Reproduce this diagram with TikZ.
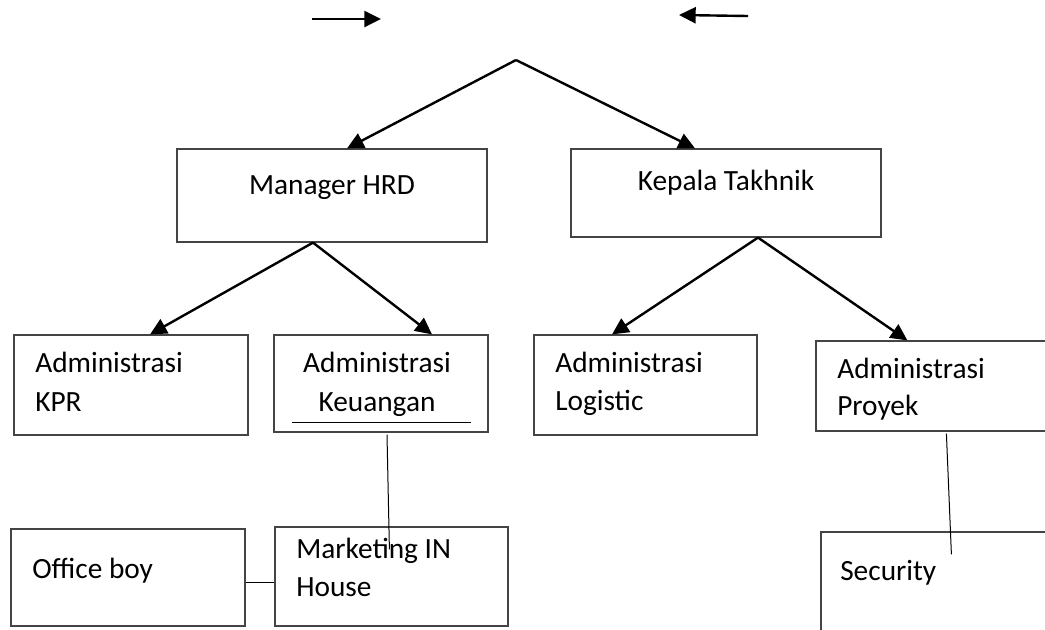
\documentclass[tikz,border=0pt]{standalone}
\usepackage{fontspec}
\setmainfont{Carlito}
\usetikzlibrary{arrows.meta,calc}
\definecolor{boxline}{HTML}{444444}
\begin{document}
\begin{tikzpicture}[x=0.75pt,y=-0.75pt,
  box/.style={draw=boxline, line width=0.9pt, rectangle, inner sep=0pt},
  sz/.style 2 args={minimum width=#1*0.75pt, minimum height=#2*0.75pt},
  lbl/.style={inner sep=0pt, font=\fontsize{22}{26}\selectfont},
  arr/.style={line width=1.8pt, -{Triangle[length=12.5pt,width=12pt]}},
  thin/.style={line width=0.75pt}]
\useasboundingbox (0,0) rectangle (1045,629);
\begin{scope}
\clip (0,0) rectangle (1045,629);

% free-standing arrows at the top
\coordinate (inL) at (312,19);
\coordinate (inLend) at (381,19);
\coordinate (inR) at (748,16);
\coordinate (inRend) at (679,15);
\draw[arr] (inL) -- (inLend);
\draw[arr] (inR) -- (inRend);

% split point
\coordinate (apex) at (516,60);

% boxes
\node[box, sz={310}{93}] (hrd) at (332,195.5) {};
\node[box, sz={310}{88}] (kt) at (726,193) {};
\node[box, sz={234}{100}] (kpr) at (131,385) {};
\node[box, sz={214}{97}] (keu) at (381,383.5) {};
\node[box, sz={223}{100}] (log) at (645.5,385) {};
\node[box, sz={300}{90}] (proy) at (966,386) {};
\node[box, sz={234}{97}] (off) at (128,577.5) {};
\node[box, sz={233}{99}] (mkt) at (391.5,576.5) {};
\node[box, sz={300}{200}] (sec) at (971,632) {};

% texts
\node[lbl, anchor=base] at (332,194) {Manager HRD};
\node[lbl, anchor=base] at (726,190) {Kepala Takhnik};
\node[lbl, anchor=base west] at (35,372) {Administrasi};
\node[lbl, anchor=base west] at (35,411) {KPR};
\node[lbl, anchor=base] at (377,372) {Administrasi};
\node[lbl, anchor=base] at (377,411) {Keuangan};
\node[lbl, anchor=base west] at (555,372) {Administrasi};
\node[lbl, anchor=base west] at (555,410) {Logistic};
\node[lbl, anchor=base west] at (837,378) {Administrasi};
\node[lbl, anchor=base west] at (837,415) {Proyek};
\node[lbl, anchor=base west] at (32,578) {Office boy};
\node[lbl, anchor=base west] at (296,558) {Marketing IN};
\node[lbl, anchor=base west] at (296,596) {House};
\node[lbl, anchor=base west] at (840,580) {Security};

% rule under Keuangan
\draw[thin] ($(keu.south west)+(19,-10)$) -- ($(keu.south east)+(-18,-10)$);

% arrows
\draw[arr] (apex) -- ($(hrd.north)+(15,0)$);
\draw[arr] (apex) -- ($(kt.north)+(-31,0)$);
\draw[arr] ($(hrd.south)+(-19,0)$) -- ($(kpr.north)+(19,0)$);
\draw[arr] ($(hrd.south)+(-19,0)$) -- ($(keu.north)+(51,0)$);
\draw[arr] ($(kt.south)+(32,0)$) -- ($(log.north)+(-33.5,0)$);
\draw[arr] ($(kt.south)+(32,0)$) -- ($(proy.north west)+(92,0)$);

% plain connectors
\draw[thin] ($(keu.south)+(6,2)$) -- ($(mkt.north west)+(115,23)$);
\draw[thin] ($(proy.south west)+(131,2)$) -- ($(sec.north west)+(131,23)$);
\draw[thin] ($(off.east)+(0,4.5)$) -- ($(mkt.west)+(0,5.5)$);
\end{scope}
\end{tikzpicture}
\end{document}
